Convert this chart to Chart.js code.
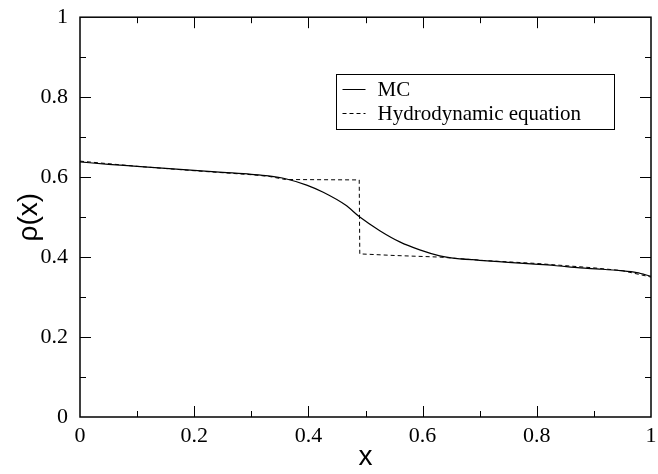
<!DOCTYPE html>
<html>
<head>
<meta charset="utf-8">
<script src="https://cdn.jsdelivr.net/npm/chart.js@4/dist/chart.umd.min.js"></script>
<style>
  html, body { margin: 0; padding: 0; background: #fff; }
  #wrap { width: 658px; height: 474px; position: relative; }
</style>
</head>
<body>
<div id="wrap"><canvas id="rhoChart" width="658" height="474"></canvas></div>
<script>
// Data
const mcX = [0, 0.05, 0.1, 0.15, 0.2, 0.25, 0.3, 0.33, 0.36, 0.397, 0.426, 0.465, 0.49, 0.525, 0.56, 0.595, 0.63, 0.65, 0.7, 0.75, 0.79, 0.83, 0.876, 0.91, 0.946, 0.975, 1];
const mcY = [0.638, 0.632, 0.627, 0.622, 0.617, 0.612, 0.607, 0.603, 0.596, 0.580, 0.562, 0.530, 0.5, 0.466, 0.438, 0.418, 0.403, 0.398, 0.392, 0.387, 0.383, 0.379, 0.373, 0.37, 0.366, 0.361, 0.352];

const hydroX = [0, 0.1, 0.2, 0.3, 0.33, 0.36, 0.489, 0.49, 0.55, 0.63, 0.7, 0.8, 0.9, 0.95, 1];
const hydroY = [0.640, 0.627, 0.616, 0.606, 0.602, 0.594, 0.593, 0.408, 0.404, 0.400, 0.392, 0.384, 0.373, 0.366, 0.350];

const xTicks = [0, 0.2, 0.4, 0.6, 0.8, 1];
const yTicks = [0, 0.2, 0.4, 0.6, 0.8, 1];
const minorTicks = [0.1, 0.3, 0.5, 0.7, 0.9];

const toPoints = (xs, ys) => xs.map((x, i) => ({ x: x, y: ys[i] }));

// Inward ticks on all four sides plus the legend box
const framePlugin = {
  id: 'frame',
  afterDraw(chart) {
    const { ctx, chartArea: a, scales } = chart;
    const xs = scales.x, ys = scales.y;
    ctx.save();
    ctx.strokeStyle = '#000';
    ctx.lineWidth = 1;
    ctx.beginPath();
    const tick = (v, len) => {
      const px = Math.round(xs.getPixelForValue(v)) + 0.5;
      ctx.moveTo(px, a.bottom); ctx.lineTo(px, a.bottom - len);
      ctx.moveTo(px, a.top); ctx.lineTo(px, a.top + len);
      const py = Math.round(ys.getPixelForValue(v)) + 0.5;
      ctx.moveTo(a.left, py); ctx.lineTo(a.left + len, py);
      ctx.moveTo(a.right, py); ctx.lineTo(a.right - len, py);
    };
    xTicks.slice(1, -1).forEach(v => tick(v, 11));
    minorTicks.forEach(v => tick(v, 6));
    ctx.stroke();
    ctx.lineWidth = 1.5;
    ctx.strokeRect(a.left, a.top, a.right - a.left, a.bottom - a.top);

    // legend
    const bx = 336.5, by = 74.5, bw = 278, bh = 55;
    ctx.lineWidth = 1;
    ctx.fillStyle = '#fff';
    ctx.fillRect(bx, by, bw, bh);
    ctx.strokeRect(bx, by, bw, bh);
    ctx.font = '21px "Liberation Serif", "Times New Roman", serif';
    ctx.fillStyle = '#000';
    ctx.textBaseline = 'middle';
    chart.data.datasets.forEach((ds, i) => {
      const cy = by + 15 + i * 24;
      ctx.beginPath();
      ctx.setLineDash(ds.borderDash || []);
      ctx.moveTo(bx + 6, cy);
      ctx.lineTo(bx + 29, cy);
      ctx.stroke();
      ctx.setLineDash([]);
      ctx.fillText(ds.label, bx + 41, cy + 1);
    });
    ctx.restore();
  }
};

const serif = { family: '"Liberation Serif", "Times New Roman", serif', size: 22 };

new Chart(document.getElementById('rhoChart'), {
  type: 'scatter',
  data: {
    datasets: [
      {
        label: 'MC',
        data: toPoints(mcX, mcY),
        showLine: true,
        borderColor: '#000',
        borderWidth: 1.2,
        pointRadius: 0,
        cubicInterpolationMode: 'monotone'
      },
      {
        label: 'Hydrodynamic equation',
        data: toPoints(hydroX, hydroY),
        showLine: true,
        borderColor: '#000',
        borderWidth: 1,
        borderDash: [4, 3],
        pointRadius: 0,
        tension: 0
      }
    ]
  },
  options: {
    responsive: false,
    animation: false,
    devicePixelRatio: 1,
    layout: { padding: { top: 16, right: 7, left: 0, bottom: 0 } },
    plugins: { legend: { display: false }, tooltip: { enabled: false } },
    scales: {
      x: {
        type: 'linear', min: 0, max: 1,
        grid: { display: false },
        border: { display: false },
        afterBuildTicks: s => { s.ticks = xTicks.map(v => ({ value: v })); },
        ticks: { color: '#000', font: serif, padding: -2, maxRotation: 0,
          callback: v => String(v) },
        title: { display: true, text: 'x', color: '#000',
          font: { family: '"Liberation Sans", Arial, sans-serif', size: 28 }, padding: { top: 0, bottom: 0 } },
        afterFit: s => { s.height = 57; }
      },
      y: {
        type: 'linear', min: 0, max: 1,
        grid: { display: false },
        border: { display: false },
        afterBuildTicks: s => { s.ticks = yTicks.map(v => ({ value: v })); },
        ticks: { color: '#000', font: serif, padding: 4,
          callback: v => String(v) },
        title: { display: true, text: 'ρ(x)', color: '#000',
          font: { family: '"Liberation Sans", Arial, sans-serif', size: 28 }, padding: { top: 12, bottom: 6 } },
        afterFit: s => { s.width = 80; }
      }
    }
  },
  plugins: [framePlugin]
});
</script>
</body>
</html>
